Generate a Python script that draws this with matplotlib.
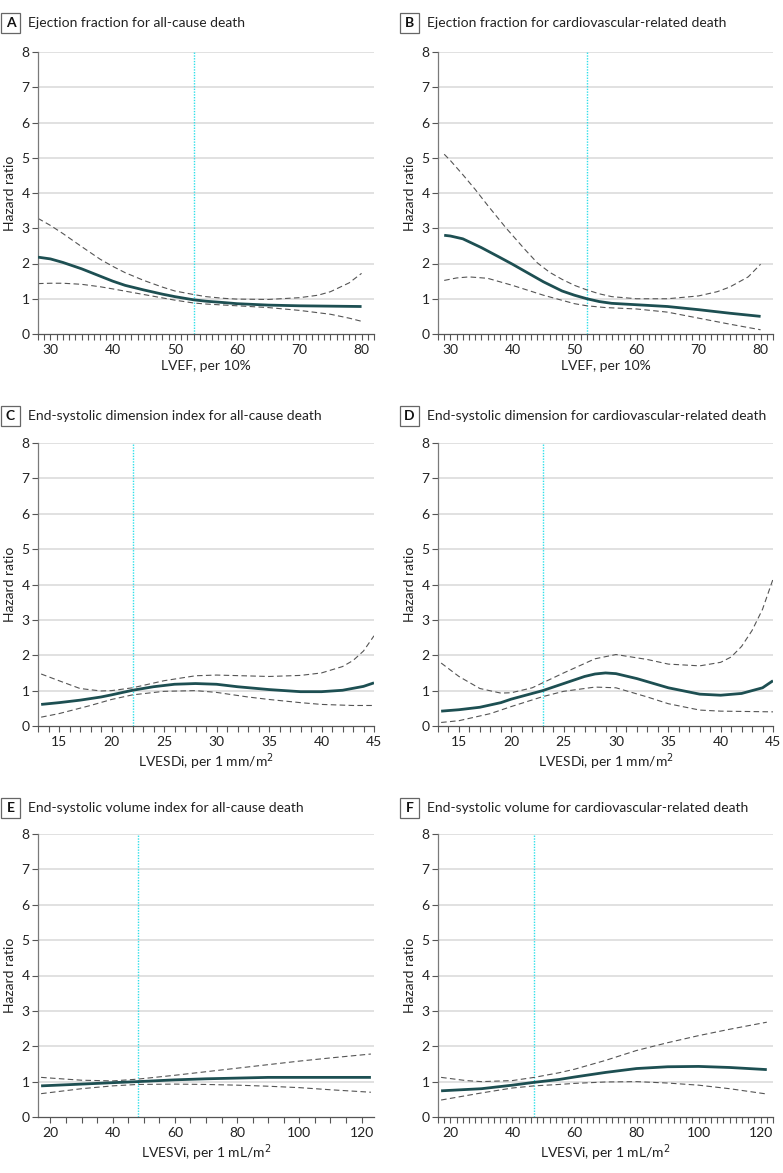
import matplotlib
matplotlib.use("Agg")
import matplotlib.pyplot as plt
from matplotlib.patches import Rectangle
from matplotlib.ticker import MultipleLocator

plt.rcParams['font.family'] = ['Lato', 'DejaVu Sans']

# ---------------- data ----------------
# Panel A: Ejection fraction, all-cause death
a_x = [28, 30, 32, 35, 38, 40, 42, 45, 48, 50, 53, 55, 58, 60, 65, 70, 75, 80]
a_hr = [2.18, 2.13, 2.03, 1.85, 1.64, 1.50, 1.38, 1.25, 1.13, 1.06, 0.97, 0.93, 0.89, 0.86, 0.82, 0.80, 0.79, 0.78]
a_up_x = [28, 30, 32, 35, 38, 40, 42, 45, 48, 50, 53, 55, 58, 60, 65, 70, 73, 75, 78, 80]
a_up = [3.28, 3.08, 2.85, 2.48, 2.12, 1.92, 1.74, 1.52, 1.33, 1.22, 1.12, 1.06, 1.01, 0.99, 0.98, 1.03, 1.10, 1.20, 1.45, 1.72]
a_lo_x = [28, 30, 32, 35, 38, 40, 45, 50, 53, 55, 60, 65, 70, 75, 78, 80]
a_lo = [1.43, 1.44, 1.44, 1.41, 1.34, 1.28, 1.12, 0.96, 0.88, 0.85, 0.80, 0.75, 0.67, 0.56, 0.45, 0.36]

# Panel B: Ejection fraction, cardiovascular-related death
b_x = [29, 30, 32, 35, 38, 40, 43, 45, 48, 50, 52, 54, 56, 60, 65, 70, 75, 80]
b_hr = [2.80, 2.78, 2.70, 2.45, 2.17, 1.98, 1.68, 1.48, 1.22, 1.10, 1.00, 0.92, 0.87, 0.83, 0.78, 0.69, 0.59, 0.50]
b_up_x = [29, 30, 32, 34, 36, 39, 42, 44, 46, 48, 50, 52, 54, 56, 60, 65, 70, 73, 75, 78, 80]
b_up = [5.10, 4.92, 4.52, 4.10, 3.65, 3.00, 2.40, 2.02, 1.75, 1.55, 1.38, 1.25, 1.14, 1.06, 1.00, 1.00, 1.08, 1.20, 1.33, 1.62, 1.98]
b_lo_x = [29, 31, 33, 36, 40, 45, 50, 52, 55, 60, 65, 70, 75, 80]
b_lo = [1.52, 1.59, 1.62, 1.58, 1.38, 1.10, 0.86, 0.80, 0.75, 0.71, 0.62, 0.45, 0.28, 0.12]

# Panel C: End-systolic dimension index, all-cause death
c_x = [13.3, 15, 17, 19, 20, 22, 24, 26, 28, 30, 32, 35, 38, 40, 42, 44, 45]
c_hr = [0.61, 0.66, 0.73, 0.82, 0.88, 1.01, 1.11, 1.18, 1.20, 1.18, 1.11, 1.03, 0.97, 0.97, 1.01, 1.12, 1.22]
c_up_x = [13.3, 15, 17, 19, 20, 22, 25, 28, 30, 35, 38, 40, 42, 43, 44, 45]
c_up = [1.47, 1.28, 1.06, 0.99, 1.00, 1.08, 1.28, 1.42, 1.44, 1.40, 1.43, 1.50, 1.68, 1.85, 2.12, 2.55]
c_lo_x = [13.3, 15, 18, 20, 22, 25, 28, 30, 33, 35, 38, 40, 43, 45]
c_lo = [0.25, 0.35, 0.58, 0.75, 0.88, 0.98, 1.00, 0.95, 0.82, 0.75, 0.66, 0.61, 0.58, 0.58]

# Panel D: End-systolic dimension, cardiovascular-related death
d_x = [13.3, 15, 17, 19, 20, 22, 23, 25, 27, 28, 29, 30, 32, 35, 38, 40, 42, 44, 45]
d_hr = [0.42, 0.46, 0.53, 0.66, 0.76, 0.92, 1.00, 1.20, 1.40, 1.47, 1.50, 1.48, 1.34, 1.08, 0.90, 0.87, 0.92, 1.08, 1.28]
d_up_x = [13.3, 15, 17, 19, 20, 22, 25, 28, 30, 33, 35, 38, 40, 41, 42, 43, 44, 45]
d_up = [1.78, 1.40, 1.06, 0.93, 0.94, 1.08, 1.50, 1.90, 2.02, 1.88, 1.75, 1.70, 1.80, 1.95, 2.25, 2.70, 3.30, 4.15]
d_lo_x = [13.3, 15, 18, 20, 23, 25, 28, 30, 33, 35, 38, 40, 45]
d_lo = [0.10, 0.15, 0.35, 0.55, 0.83, 0.98, 1.10, 1.08, 0.82, 0.63, 0.45, 0.42, 0.40]

# Panel E: End-systolic volume index, all-cause death
e_x = [17, 30, 40, 48, 60, 70, 80, 90, 100, 110, 123]
e_hr = [0.88, 0.93, 0.97, 1.00, 1.05, 1.08, 1.10, 1.12, 1.12, 1.12, 1.12]
e_up_x = [17, 25, 30, 40, 48, 60, 70, 80, 90, 100, 110, 123]
e_up = [1.12, 1.07, 1.04, 1.02, 1.07, 1.18, 1.28, 1.38, 1.48, 1.58, 1.67, 1.78]
e_lo_x = [17, 30, 40, 48, 60, 70, 80, 90, 100, 110, 123]
e_lo = [0.66, 0.80, 0.88, 0.92, 0.93, 0.92, 0.90, 0.87, 0.83, 0.77, 0.70]

# Panel F: End-systolic volume, cardiovascular-related death
f_x = [17, 30, 40, 47, 55, 60, 70, 80, 90, 100, 110, 122]
f_hr = [0.74, 0.80, 0.90, 0.98, 1.06, 1.13, 1.26, 1.37, 1.42, 1.43, 1.40, 1.34]
f_up_x = [17, 25, 30, 40, 47, 55, 60, 70, 80, 90, 100, 110, 122]
f_up = [1.12, 1.03, 1.00, 1.03, 1.12, 1.25, 1.35, 1.60, 1.88, 2.10, 2.30, 2.48, 2.68]
f_lo_x = [17, 30, 40, 47, 55, 60, 70, 80, 90, 100, 110, 122]
f_lo = [0.48, 0.68, 0.82, 0.88, 0.92, 0.95, 0.99, 1.00, 0.96, 0.90, 0.80, 0.65]

panels = [
    dict(letter='A', title='Ejection fraction for all-cause death', xlabel='LVEF, per 10%',
         xlim=(28, 82), major=10, minor=1, ref=53,
         x=a_x, hr=a_hr, ux=a_up_x, up=a_up, lx=a_lo_x, lo=a_lo),
    dict(letter='B', title='Ejection fraction for cardiovascular-related death', xlabel='LVEF, per 10%',
         xlim=(28, 82), major=10, minor=1, ref=52,
         x=b_x, hr=b_hr, ux=b_up_x, up=b_up, lx=b_lo_x, lo=b_lo),
    dict(letter='C', title='End-systolic dimension index for all-cause death', xlabel='LVESDi, per 1 mm/m$^2$',
         xlim=(13, 45), major=5, minor=1, ref=22,
         x=c_x, hr=c_hr, ux=c_up_x, up=c_up, lx=c_lo_x, lo=c_lo),
    dict(letter='D', title='End-systolic dimension for cardiovascular-related death', xlabel='LVESDi, per 1 mm/m$^2$',
         xlim=(13, 45), major=5, minor=1, ref=23,
         x=d_x, hr=d_hr, ux=d_up_x, up=d_up, lx=d_lo_x, lo=d_lo),
    dict(letter='E', title='End-systolic volume index for all-cause death', xlabel='LVESVi, per 1 mL/m$^2$',
         xlim=(16, 124), major=20, minor=5, ref=48,
         x=e_x, hr=e_hr, ux=e_up_x, up=e_up, lx=e_lo_x, lo=e_lo),
    dict(letter='F', title='End-systolic volume for cardiovascular-related death', xlabel='LVESVi, per 1 mL/m$^2$',
         xlim=(16, 124), major=20, minor=2, ref=47,
         x=f_x, hr=f_hr, ux=f_up_x, up=f_up, lx=f_lo_x, lo=f_lo),
]

W, H = 783, 1173
fig = plt.figure(figsize=(W / 100, H / 100), dpi=100)

col_left = [38, 438]
col_right = [374, 773]
row_top = [52, 443, 834]
row_bot = [334, 726, 1117]
title_y = [23, 416, 807.5]
box_x = [1, 400]

MAIN = '#1d4f52'
CI = '#555555'
REF = '#2fe0ea'
GRID = '#d9d9d9'

for i, p in enumerate(panels):
    r, c = divmod(i, 2)
    x0, x1 = col_left[c], col_right[c]
    yt, yb = row_top[r], row_bot[r]
    ax = fig.add_axes([x0 / W, 1 - yb / H, (x1 - x0) / W, (yb - yt) / H])
    ax.set_xlim(*p['xlim'])
    ax.set_ylim(0, 8)
    ax.set_yticks(range(0, 9))
    ax.xaxis.set_major_locator(MultipleLocator(p['major']))
    ax.xaxis.set_minor_locator(MultipleLocator(p['minor']))
    for yv in range(1, 9):
        ax.axhline(yv, color=GRID, lw=1.1, zorder=0)
    ax.axvline(p['ref'], color=REF, lw=1.0, ls=(0, (1, 1)), zorder=1)
    ax.plot(p['ux'], p['up'], color=CI, lw=0.8, ls=(0, (5, 3)), zorder=2)
    ax.plot(p['lx'], p['lo'], color=CI, lw=0.8, ls=(0, (5, 3)), zorder=2)
    ax.plot(p['x'], p['hr'], color=MAIN, lw=2.0, zorder=3, solid_capstyle='butt',
            solid_joinstyle='round')
    for s in ['top', 'right']:
        ax.spines[s].set_visible(False)
    ax.spines['left'].set_color('#7a7a7a')
    ax.spines['bottom'].set_color('#555555')
    ax.spines['left'].set_linewidth(0.9)
    ax.spines['bottom'].set_linewidth(0.9)
    ax.tick_params(axis='both', which='both', direction='out', length=4, width=0.8,
                   color='#555555', labelsize=10, labelcolor='#222222', pad=2)
    ax.tick_params(axis='x', which='major', pad=3)
    ax.set_xlabel(p['xlabel'], fontsize=10, color='#222222', labelpad=3)
    ax.set_ylabel('Hazard ratio', fontsize=10, color='#222222', labelpad=4)
    ax.set_facecolor('none')

    # panel letter box and title
    bx = box_x[c]
    by = title_y[r]
    fig.patches.append(Rectangle((bx / W, 1 - (by + 10) / H), 19 / W, 20 / H,
                                 transform=fig.transFigure, fill=False,
                                 edgecolor='#666666', lw=0.9))
    fig.text((bx + 9.5) / W, 1 - by / H, p['letter'], ha='center', va='center',
             fontsize=10, fontweight='bold', color='#111111')
    fig.text((bx + 27) / W, 1 - by / H, p['title'], ha='left', va='center',
             fontsize=10, color='#222222')

fig.savefig('out.png', dpi=100)
